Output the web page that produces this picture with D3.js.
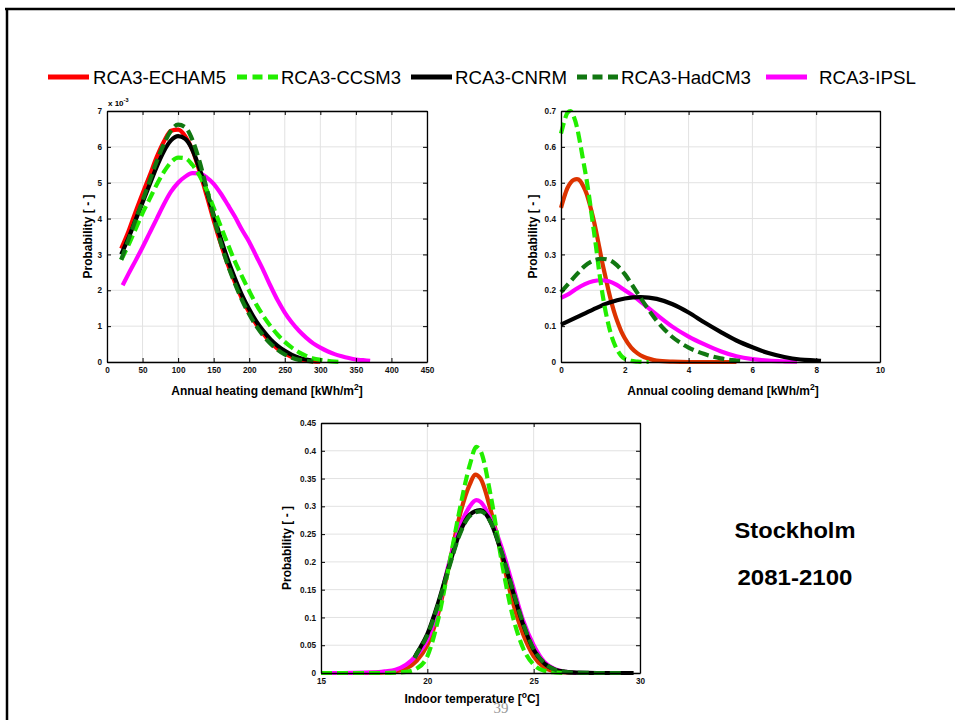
<!DOCTYPE html>
<html><head><meta charset="utf-8">
<script src="https://cdn.jsdelivr.net/npm/d3@7"></script>
<style>
html,body{margin:0;padding:0;background:#fff;}
svg{display:block;font-family:"Liberation Sans",Arial,sans-serif;}
</style></head>
<body><svg id="c" width="955" height="720"></svg>
<script>
// ---------- Legend / series ----------
const seriesNames = ["RCA3-ECHAM5","RCA3-CCSM3","RCA3-CNRM","RCA3-HadCM3","RCA3-IPSL"];
const seriesColors = ["#ff0000","#22ee00","#000000","#117711","#ff00ff"];
const seriesDashed = [false,true,false,true,false];

// ---------- Panel 1: annual heating demand (x 10^-3) ----------
const heatX_ECHAM5 = [20,30,40,50,60,70,80,90,100,110,120,130,140,150,160,170,180,190,200,210,220,230,240,250,260,270,280,290,300];
const heatY_ECHAM5 = [3.16,3.63,4.18,4.7,5.2,5.72,6.15,6.45,6.48,6.3,5.92,5.32,4.65,3.95,3.3,2.72,2.22,1.76,1.38,1.05,0.78,0.55,0.37,0.24,0.14,0.08,0.04,0.02,0.01];
const heatX_CCSM3 = [20,30,40,50,60,70,80,90,100,110,120,130,140,150,160,170,180,190,200,210,220,230,240,250,260,270,280,290,300,310,320,326];
const heatY_CCSM3 = [2.85,3.25,3.7,4.15,4.55,4.95,5.3,5.57,5.7,5.68,5.5,5.2,4.8,4.3,3.78,3.28,2.8,2.38,1.98,1.6,1.28,1.0,0.76,0.56,0.4,0.27,0.17,0.1,0.06,0.03,0.01,0.005];
const heatX_CNRM = [20,30,40,50,60,70,80,90,100,110,120,130,140,150,160,170,180,190,200,210,220,230,240,250,260,270,280,290];
const heatY_CNRM = [3.0,3.45,3.95,4.45,4.95,5.45,5.88,6.18,6.3,6.22,5.92,5.4,4.78,4.1,3.45,2.85,2.33,1.86,1.47,1.13,0.86,0.63,0.45,0.31,0.2,0.12,0.07,0.03];
const heatX_HadCM3 = [20,30,40,50,60,70,80,90,100,110,120,130,140,150,160,170,180,190,200,210,220,230,240,250,260,270,280,290];
const heatY_HadCM3 = [2.85,3.4,3.95,4.5,5.05,5.6,6.08,6.45,6.62,6.55,6.2,5.6,4.85,4.05,3.32,2.7,2.18,1.72,1.33,1.0,0.73,0.51,0.34,0.21,0.12,0.06,0.03,0.01];
const heatX_IPSL = [22,30,40,50,60,70,80,90,100,110,120,130,140,150,160,170,180,190,200,210,220,230,240,250,260,270,280,290,300,310,320,330,340,350,360,370];
const heatY_IPSL = [2.14,2.45,2.82,3.2,3.6,4.0,4.4,4.75,5.0,5.17,5.27,5.26,5.15,4.97,4.7,4.38,4.05,3.68,3.35,2.95,2.55,2.12,1.72,1.38,1.1,0.87,0.68,0.52,0.4,0.3,0.22,0.16,0.11,0.07,0.05,0.03];
const heatTicksX = [0,50,100,150,200,250,300,350,400,450];
const heatTicksY = [0,1,2,3,4,5,6,7];

// ---------- Panel 2: annual cooling demand ----------
const coolX_ECHAM5 = [0,0.1,0.2,0.3,0.4,0.5,0.6,0.7,0.8,0.9,1.0,1.1,1.2,1.3,1.4,1.5,1.6,1.7,1.8,1.9,2.0,2.2,2.4,2.6,2.8,3.0,3.5,4.0,4.5,5.0,5.5];
const coolY_ECHAM5 = [0.43,0.46,0.485,0.5,0.508,0.51,0.505,0.49,0.47,0.44,0.405,0.365,0.32,0.275,0.235,0.195,0.16,0.13,0.105,0.083,0.066,0.04,0.024,0.014,0.008,0.004,0.001,0,0,0,0];
const coolX_CCSM3 = [0,0.1,0.2,0.3,0.4,0.5,0.6,0.7,0.8,0.9,1.0,1.1,1.2,1.3,1.4,1.5,1.6,1.7,1.8,1.9,2.0,2.2,2.4,2.6,2.75];
const coolY_CCSM3 = [0.637,0.67,0.695,0.70,0.685,0.655,0.61,0.56,0.51,0.45,0.385,0.32,0.25,0.19,0.14,0.10,0.068,0.045,0.028,0.016,0.009,0.003,0.001,0,0];
const coolX_CNRM = [0,0.5,1.0,1.5,2.0,2.5,3.0,3.5,4.0,4.5,5.0,5.5,6.0,6.5,7.0,7.5,8.0,8.15];
const coolY_CNRM = [0.104,0.125,0.146,0.165,0.177,0.181,0.176,0.161,0.138,0.11,0.084,0.06,0.041,0.025,0.014,0.007,0.004,0.003];
const coolX_HadCM3 = [0,0.25,0.5,0.75,1.0,1.25,1.5,1.75,2.0,2.25,2.5,2.75,3.0,3.25,3.5,3.75,4.0,4.5,5.0,5.5,5.75];
const coolY_HadCM3 = [0.195,0.22,0.245,0.268,0.282,0.288,0.285,0.27,0.245,0.212,0.178,0.145,0.115,0.09,0.069,0.053,0.04,0.022,0.01,0.004,0.002];
const coolX_IPSL = [0,0.25,0.5,0.75,1.0,1.25,1.5,1.75,2.0,2.25,2.5,2.75,3.0,3.5,4.0,4.5,5.0,5.5,6.0,6.5,7.0,7.4];
const coolY_IPSL = [0.179,0.19,0.205,0.217,0.225,0.228,0.225,0.215,0.2,0.185,0.168,0.15,0.132,0.098,0.071,0.049,0.03,0.016,0.008,0.004,0.002,0.001];
const coolTicksX = [0,2,4,6,8,10];
const coolTicksY = [0,0.1,0.2,0.3,0.4,0.5,0.6,0.7];

// ---------- Panel 3: indoor temperature ----------
const tempX_ECHAM5 = [15,16,17,18,18.5,19,19.5,20,20.5,21,21.5,22,22.25,22.5,23,23.5,24,24.5,25,25.5,26,26.5,27];
const tempY_ECHAM5 = [0,0,0,0.001,0.003,0.008,0.022,0.05,0.105,0.19,0.28,0.34,0.357,0.35,0.29,0.21,0.13,0.07,0.03,0.01,0.003,0.001,0];
const tempX_CCSM3 = [15,16,17,18,18.5,19,19.5,20,20.5,21,21.5,22,22.3,22.5,23,23.5,24,24.5,25,25.5,26,26.5];
const tempY_CCSM3 = [0,0,0,0,0.0005,0.002,0.008,0.03,0.095,0.19,0.29,0.375,0.407,0.4,0.315,0.2,0.105,0.045,0.015,0.004,0.001,0];
const tempX_CNRM = [19.4,19.5,20,20.5,21,21.5,22,22.5,23,23.5,24,24.5,25,25.5,26,26.5,27,28,29,29.7];
const tempY_CNRM = [0.028,0.035,0.07,0.125,0.19,0.25,0.285,0.293,0.27,0.215,0.15,0.088,0.042,0.017,0.006,0.002,0.0005,0,0,0];
const tempX_HadCM3 = [19.4,19.5,20,20.5,21,21.5,22,22.5,23,23.5,24,24.5,25,25.5,26,26.5,27,28,29,29.1];
const tempY_HadCM3 = [0.027,0.034,0.068,0.122,0.187,0.247,0.283,0.291,0.27,0.217,0.152,0.09,0.043,0.018,0.006,0.002,0.0005,0,0,0];
const tempX_IPSL = [15,16,17,17.5,18,18.5,19,19.5,20,20.5,21,21.5,22,22.3,22.5,23,23.5,24,24.5,25,25.5,26,26.5,27];
const tempY_IPSL = [0,0,0.0005,0.001,0.003,0.006,0.015,0.032,0.06,0.115,0.195,0.26,0.3,0.311,0.308,0.275,0.225,0.16,0.095,0.05,0.02,0.007,0.002,0];
const tempTicksX = [15,20,25,30];
const tempTicksY = [0,0.05,0.1,0.15,0.2,0.25,0.3,0.35,0.4,0.45];

const svg = d3.select("#c");

// slide frame
svg.append("line").attr("x1",5).attr("x2",955).attr("y1",9).attr("y2",9).attr("stroke","#000").attr("stroke-width",2.5);
svg.append("line").attr("x1",7).attr("x2",7).attr("y1",8).attr("y2",720).attr("stroke","#000").attr("stroke-width",2.5);

// legend
const legLineX = [48,237,411,577,766];
const legTextX = [93,281,455,621,819];
const legTextW = [133,120,112,130,97];
seriesNames.forEach((n,i)=>{
  svg.append("line").attr("x1",legLineX[i]).attr("x2",legLineX[i]+41).attr("y1",77).attr("y2",77)
    .attr("stroke",seriesColors[i]).attr("stroke-width",5)
    .attr("stroke-dasharray",seriesDashed[i]?"10,5.5":null);
  svg.append("text").attr("x",legTextX[i]).attr("y",83.5).attr("font-size",18.5)
    .attr("textLength",legTextW[i]).attr("lengthAdjust","spacingAndGlyphs").text(n);
});

function xLabel(cx,yb,main,sup,tail){
  const t = svg.append("text").attr("x",cx).attr("y",yb).attr("text-anchor","middle")
    .attr("font-size",12).attr("font-weight","bold");
  t.append("tspan").text(main);
  t.append("tspan").attr("dy",-5).attr("font-size",8.5).text(sup);
  t.append("tspan").attr("dy",5).text(tail);
}

function panel(cfg){
  const g = svg.append("g");
  const x = d3.scaleLinear().domain(cfg.xd).range([cfg.l,cfg.r]);
  const y = d3.scaleLinear().domain(cfg.yd).range([cfg.b,cfg.t]);
  g.selectAll(null).data(cfg.tx).join("line").attr("x1",d=>x(d)).attr("x2",d=>x(d))
    .attr("y1",cfg.t).attr("y2",cfg.b).attr("stroke","#e2e2e2").attr("stroke-width",1);
  g.selectAll(null).data(cfg.ty).join("line").attr("y1",d=>y(d)).attr("y2",d=>y(d))
    .attr("x1",cfg.l).attr("x2",cfg.r).attr("stroke","#e2e2e2").attr("stroke-width",1);
  const line = d3.line().x(d=>x(d[0])).y(d=>y(d[1])).curve(d3.curveMonotoneX);
  cfg.series.forEach(s=>{
    g.append("path").attr("d",line(s.xs.map((v,i)=>[v,s.ys[i]])))
      .attr("fill","none").attr("stroke",s.color).attr("stroke-width",4.2)
      .attr("stroke-linejoin","round")
      .attr("stroke-dasharray",s.dash?"11,5":null);
  });
  const fmt = d=>String(+d.toFixed(3));
  const ax = [
    [d3.axisBottom(x).tickValues(cfg.tx).tickSizeInner(-4).tickSizeOuter(0).tickPadding(5).tickFormat(fmt), `translate(0,${cfg.b})`],
    [d3.axisTop(x).tickValues(cfg.tx).tickSizeInner(-4).tickSizeOuter(0).tickFormat(""), `translate(0,${cfg.t})`],
    [d3.axisLeft(y).tickValues(cfg.ty).tickSizeInner(-4).tickSizeOuter(0).tickPadding(5).tickFormat(fmt), `translate(${cfg.l},0)`],
    [d3.axisRight(y).tickValues(cfg.ty).tickSizeInner(-4).tickSizeOuter(0).tickFormat(""), `translate(${cfg.r},0)`]
  ];
  ax.forEach(([a,tr])=>{
    const gg = g.append("g").attr("transform",tr).call(a);
    gg.select(".domain").attr("stroke","#000").attr("stroke-width",1.3);
    gg.selectAll(".tick line").attr("stroke","#000").attr("stroke-width",1);
    gg.selectAll(".tick text").attr("font-family","'Liberation Sans',Arial,sans-serif")
      .attr("font-size",8.2).attr("font-weight","bold").attr("fill","#111");
  });
  g.append("text").attr("transform",`translate(${cfg.yx},${(cfg.t+cfg.b)/2}) rotate(-90)`)
    .attr("text-anchor","middle").attr("font-size",12).attr("font-weight","bold").text("Probability [ - ]");
  return {x,y,g};
}

function mkSeries(xsArr, ysArr, redColor){
  const order = [0,4,2,1,3];
  return order.map(i=>({xs:xsArr[i],ys:ysArr[i],color:(i===0?redColor:seriesColors[i]),dash:seriesDashed[i]}));
}

// Panel 1
panel({l:107,r:427,t:111,b:362,xd:[0,450],yd:[0,7],tx:heatTicksX,ty:heatTicksY,yx:92,
  series:mkSeries([heatX_ECHAM5,heatX_CCSM3,heatX_CNRM,heatX_HadCM3,heatX_IPSL],
                  [heatY_ECHAM5,heatY_CCSM3,heatY_CNRM,heatY_HadCM3,heatY_IPSL],"#ff0000")});
const mult = svg.append("text").attr("x",108).attr("y",106).attr("font-size",8).attr("font-weight","bold");
mult.append("tspan").text("x 10");
mult.append("tspan").attr("dy",-4).attr("font-size",5.5).text("-3");
xLabel(267,395,"Annual heating demand [kWh/m","2","]");

// Panel 2
panel({l:561,r:880,t:111,b:362,xd:[0,10],yd:[0,0.7],tx:coolTicksX,ty:coolTicksY,yx:537,
  series:mkSeries([coolX_ECHAM5,coolX_CCSM3,coolX_CNRM,coolX_HadCM3,coolX_IPSL],
                  [coolY_ECHAM5,coolY_CCSM3,coolY_CNRM,coolY_HadCM3,coolY_IPSL],"#dd3300")});
xLabel(723,395,"Annual cooling demand [kWh/m","2","]");

// Panel 3
panel({l:321,r:640,t:423,b:673,xd:[15,30],yd:[0,0.45],tx:tempTicksX,ty:tempTicksY,yx:291,
  series:mkSeries([tempX_ECHAM5,tempX_CCSM3,tempX_CNRM,tempX_HadCM3,tempX_IPSL],
                  [tempY_ECHAM5,tempY_CCSM3,tempY_CNRM,tempY_HadCM3,tempY_IPSL],"#dd3300")});
xLabel(472,703,"Indoor temperature [","o","C]");

// Side text
svg.append("text").attr("x",795).attr("y",538).attr("text-anchor","middle").attr("font-size",22).attr("font-weight","bold")
  .attr("textLength",121).attr("lengthAdjust","spacingAndGlyphs").text("Stockholm");
svg.append("text").attr("x",795).attr("y",585).attr("text-anchor","middle").attr("font-size",22).attr("font-weight","bold")
  .attr("textLength",115).attr("lengthAdjust","spacingAndGlyphs").text("2081-2100");
// page number
svg.append("text").attr("x",501).attr("y",713).attr("text-anchor","middle").attr("font-family","'Liberation Serif',serif")
  .attr("font-size",15).attr("fill","#999").text("39");
</script></body></html>
